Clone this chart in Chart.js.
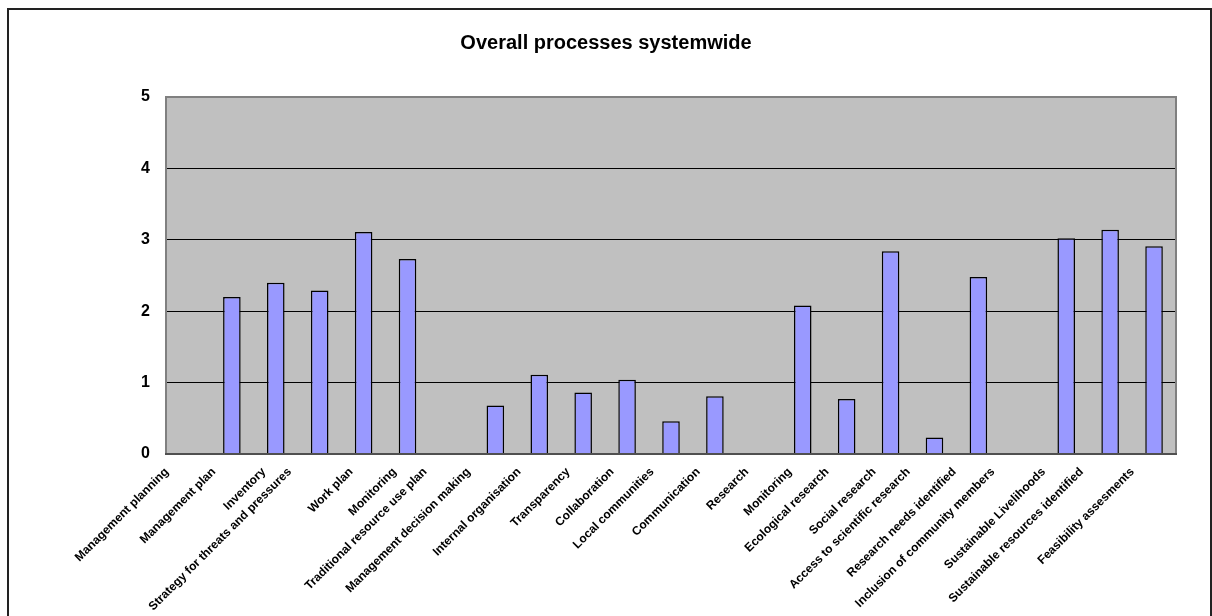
<!DOCTYPE html>
<html>
<head>
<meta charset="utf-8">
<title>Overall processes systemwide</title>
<script src="https://cdn.jsdelivr.net/npm/chart.js@4/dist/chart.umd.min.js"></script>
<style>
  html, body { margin: 0; padding: 0; background: #ffffff; }
  #wrap { width: 1212px; height: 616px; position: relative; }
</style>
</head>
<body>
<div id="wrap"><canvas id="chart" width="1212" height="616"></canvas></div>
<script>
// Process categories along the x axis
const categories = [
  'Management planning',
  'Management plan',
  'Inventory',
  'Strategy for threats and pressures',
  'Work plan',
  'Monitoring',
  'Traditional resource use plan',
  'Management decision making',
  'Internal organisation',
  'Transparency',
  'Collaboration',
  'Local communities',
  'Communication',
  'Research',
  'Monitoring',
  'Ecological research',
  'Social research',
  'Access to scientific research',
  'Research needs identified',
  'Inclusion of community members',
  'Sustainable Livelihoods',
  'Sustainable resources identified',
  'Feasibility assesments'
];

// Average score per process (0 = no score)
const scores = [
  0, 2.2, 2.4, 2.29, 3.11, 2.73, 0, 0.68, 1.11, 0.86, 1.04, 0.46,
  0.81, 0, 2.08, 0.77, 2.84, 0.23, 2.48, 0, 3.02, 3.14, 2.91
];

// Value axis ticks
const yTicks = [0, 1, 2, 3, 4, 5];

const FONT = '"Liberation Sans", Arial, sans-serif';

// Grey plot background, plot frame, outer frame and slanted category labels
const framePlugin = {
  id: 'frame',
  beforeDraw(chart) {
    const { ctx, chartArea: a } = chart;
    ctx.save();
    ctx.fillStyle = '#C0C0C0';
    ctx.fillRect(a.left, a.top, a.right - a.left, a.bottom - a.top);
    ctx.restore();
  },
  afterDraw(chart) {
    const { ctx, chartArea: a } = chart;
    ctx.save();
    // plot frame
    ctx.strokeStyle = '#808080';
    ctx.lineWidth = 2;
    ctx.strokeRect(a.left, a.top, a.right - a.left, a.bottom - a.top);
    ctx.strokeStyle = '#404040';
    ctx.lineWidth = 1.5;
    ctx.beginPath();
    ctx.moveTo(a.left - 1, a.bottom);
    ctx.lineTo(a.right + 1, a.bottom);
    ctx.stroke();
    // outer frame
    ctx.strokeStyle = '#222222';
    ctx.lineWidth = 2;
    ctx.strokeRect(8, 9, 1203, 700);

    // category labels, rotated 45 degrees
    const xs = chart.scales.x;
    ctx.fillStyle = '#000000';
    ctx.font = 'bold 12px ' + FONT;
    ctx.textAlign = 'right';
    ctx.textBaseline = 'middle';
    categories.forEach((label, i) => {
      const cx = xs.getPixelForValue(i);
      const w = ctx.measureText(label).width;
      const dx = -(5 + 0.128 * w);
      ctx.save();
      ctx.translate(cx + dx, a.bottom + 16);
      ctx.rotate(-Math.PI / 4);
      ctx.fillText(label, 0, 0);
      ctx.restore();
    });
    ctx.restore();
  }
};

new Chart(document.getElementById('chart'), {
  type: 'bar',
  data: {
    labels: categories,
    datasets: [{
      label: 'Score',
      data: scores,
      backgroundColor: '#9999FF',
      borderColor: '#000000',
      borderWidth: 1.5,
      categoryPercentage: 1,
      barPercentage: 0.4
    }]
  },
  options: {
    responsive: false,
    animation: false,
    devicePixelRatio: 1,
    layout: { padding: { left: 36, right: 36, top: 0, bottom: 0 } },
    plugins: {
      legend: { display: false },
      tooltip: { enabled: false },
      title: {
        display: true,
        text: 'Overall processes systemwide',
        color: '#000000',
        font: { family: FONT, size: 20, weight: 'bold' },
        padding: { top: 31, bottom: 42 }
      }
    },
    scales: {
      x: {
        grid: { display: false },
        border: { display: false },
        ticks: { display: false },
        afterFit(scale) { scale.height = 162; }
      },
      y: {
        min: 0,
        max: 5,
        afterBuildTicks(scale) { scale.ticks = yTicks.map(v => ({ value: v })); },
        ticks: {
          color: '#000000',
          padding: 16,
          font: { family: FONT, size: 16, weight: 'bold' }
        },
        grid: {
          drawTicks: false,
          lineWidth: 1,
          color: ctx => (ctx.tick && (ctx.tick.value === 0 || ctx.tick.value === 5)) ? 'rgba(0,0,0,0)' : '#000000'
        },
        border: { display: false },
        afterFit(scale) { scale.width = 130; }
      }
    }
  },
  plugins: [framePlugin]
});
</script>
</body>
</html>
